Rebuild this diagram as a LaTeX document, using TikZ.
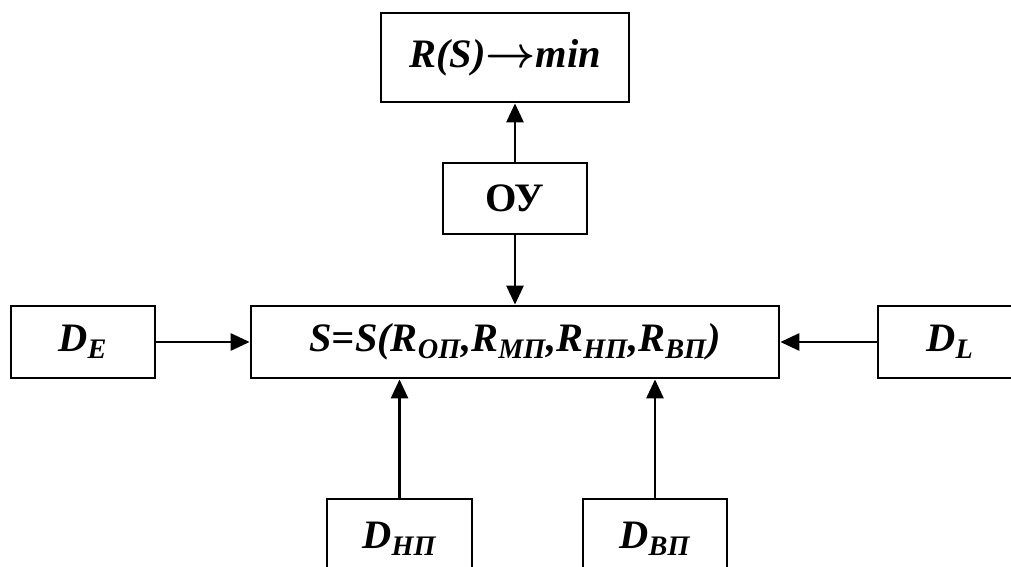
\documentclass[tikz,border=0pt]{standalone}
\usepackage{fontspec}
\setmainfont{Liberation Serif}
\usetikzlibrary{arrows.meta}

\tikzset{
	blk/.style={draw,line width=1.6pt,inner sep=0pt,font=\fontsize{23}{27}\selectfont\bfseries\itshape},
	flow/.style={line width=1.6pt,-{Triangle[length=3.8mm,width=3.4mm]}}
}

\begin{document}
\begin{tikzpicture}[x=0.02cm,y=-0.02cm]
		\clip (0,0) rectangle (1011,567);
		\node[blk,minimum width=4.96cm,minimum height=1.78cm] (goal) at (505,57.5) {R(S)\mbox{\boldmath$\rightarrow$}min};
		\node[blk,minimum width=2.88cm,minimum height=1.42cm,font=\fontsize{23}{27}\selectfont\bfseries] (ou) at (515,198.5) {ОУ};
		\node[blk,minimum width=10.56cm,minimum height=1.44cm] (sys) at (515,342) {S=S(R\textsubscript{ОП},R\textsubscript{МП},R\textsubscript{НП},R\textsubscript{ВП})};
		\node[blk,minimum width=2.88cm,minimum height=1.44cm] (de) at (83,342) {D\textsubscript{E}};
		\node[blk,minimum width=2.88cm,minimum height=1.44cm] (dl) at (950,342) {D\textsubscript{L}};
		\node[blk,minimum width=2.9cm,minimum height=1.6cm] (dnp) at (399.5,539) {D\textsubscript{НП}};
		\node[blk,minimum width=2.88cm,minimum height=1.6cm] (dvp) at (655,539) {D\textsubscript{ВП}};
		\draw[flow] (ou.north) -- (ou.north |- goal.south);
		\draw[flow] (ou.south) -- (sys.north);
		\draw[flow] (de) -- (sys);
		\draw[flow] (dl) -- (sys);
		\draw[flow] (dnp) -- (dnp |- sys.south);
		\draw[flow] (dvp) -- (dvp |- sys.south);
	\end{tikzpicture}
\end{document}
